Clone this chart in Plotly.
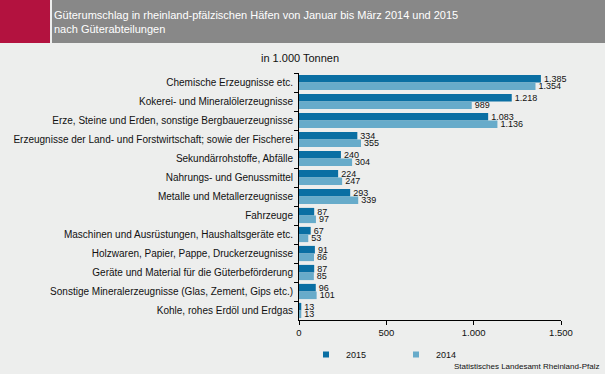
import plotly.graph_objects as go

categories = [
    "Chemische Erzeugnisse etc.",
    "Kokerei- und Mineralölerzeugnisse",
    "Erze, Steine und Erden, sonstige Bergbauerzeugnisse",
    "Erzeugnisse der Land- und Forstwirtschaft; sowie der Fischerei",
    "Sekundärrohstoffe, Abfälle",
    "Nahrungs- und Genussmittel",
    "Metalle und Metallerzeugnisse",
    "Fahrzeuge",
    "Maschinen und Ausrüstungen, Haushaltsgeräte etc.",
    "Holzwaren, Papier, Pappe, Druckerzeugnisse",
    "Geräte und Material für die Güterbeförderung",
    "Sonstige Mineralerzeugnisse (Glas, Zement, Gips etc.)",
    "Kohle, rohes Erdöl und Erdgas",
]
values_2015 = [1385, 1218, 1083, 334, 240, 224, 293, 87, 67, 91, 87, 96, 13]
values_2014 = [1354, 989, 1136, 355, 304, 247, 339, 97, 53, 86, 85, 101, 13]
x_ticks = [0, 500, 1000, 1500]

C2015 = "#0a6fa3"
C2014 = "#67abca"

W, H = 605, 374
L, R, T, B = 299, 561, 73, 320

def px(x):
    return (x - L) / (R - L)

def py(y):
    return (B - y) / (B - T)

fig = go.Figure()
fig.add_trace(go.Bar(
    y=categories, x=values_2015, orientation="h", name="2015", showlegend=False,
    marker=dict(color=C2015, line=dict(width=0)),
    text=values_2015, texttemplate="%{x:,d}", textposition="outside",
    constraintext="none",
    textfont=dict(size=9, color="#111111"), cliponaxis=False,
))
fig.add_trace(go.Bar(
    y=categories, x=values_2014, orientation="h", name="2014", showlegend=False,
    marker=dict(color=C2014, line=dict(width=0)),
    text=values_2014, texttemplate="%{x:,d}", textposition="outside",
    constraintext="none",
    textfont=dict(size=9, color="#111111"), cliponaxis=False,
))
# legend entries with small square markers
for name, col in (("2015", C2015), ("2014", C2014)):
    fig.add_trace(go.Scatter(
        x=[None], y=[None], mode="markers", name=name,
        marker=dict(symbol="square", size=6, color=col), showlegend=True,
    ))

fig.update_layout(
    width=W, height=H,
    margin=dict(l=L, r=W - R, t=T, b=H - B, pad=0, autoexpand=False),
    paper_bgcolor="#edeeed", plot_bgcolor="#edeeed",
    font=dict(family="Liberation Sans, Arial, sans-serif", size=9, color="#111111"),
    barmode="group", bargap=0.2, bargroupgap=0.0,
    separators=",.",
    legend=dict(orientation="h", x=px(306), y=py(340), xanchor="left", yanchor="top",
                font=dict(size=9), bgcolor="rgba(0,0,0,0)", itemwidth=30,
                traceorder="normal", entrywidth=45),
    xaxis=dict(range=[0, 1500], tickvals=x_ticks, tickformat=",d", separatethousands=True,
               automargin=False,
               showgrid=False, zeroline=False, showline=True, linecolor="#000000", linewidth=1,
               ticks="outside", ticklen=4, tickcolor="#000000", tickfont=dict(size=9.5)),
    yaxis=dict(autorange="reversed", showgrid=False, showline=True, linecolor="#000000",
               automargin=False,
               linewidth=1, ticks="outside", ticklen=4, tickcolor="#000000",
               tickson="boundaries", tickfont=dict(size=10), ticklabelstandoff=3),
    shapes=[
        dict(type="rect", xref="paper", yref="paper", x0=px(0), x1=px(50), y0=py(0), y1=py(43),
             fillcolor="#b3123f", line=dict(width=0), layer="above"),
        dict(type="rect", xref="paper", yref="paper", x0=px(52), x1=px(605), y0=py(0), y1=py(43),
             fillcolor="#888888", line=dict(width=0), layer="above"),
    ],
    annotations=[
        dict(text="Güterumschlag in rheinland-pfälzischen Häfen von Januar bis März 2014 und 2015<br>nach Güterabteilungen",
             xref="paper", yref="paper", x=px(52), y=py(21.5), xanchor="left", yanchor="middle",
             align="left", showarrow=False, font=dict(size=11, color="#ffffff")),
        dict(text="in 1.000 Tonnen", xref="paper", yref="paper", x=px(300), y=py(58),
             xanchor="center", yanchor="middle", showarrow=False, font=dict(size=11)),
        dict(text="Statistisches Landesamt Rheinland-Pfalz", xref="paper", yref="paper",
             x=px(601), y=py(366), xanchor="right", yanchor="middle", showarrow=False,
             font=dict(size=8)),
    ],
)

fig.write_html("out.html", config={"displayModeBar": False},
               post_script="document.body.style.margin='0';")
